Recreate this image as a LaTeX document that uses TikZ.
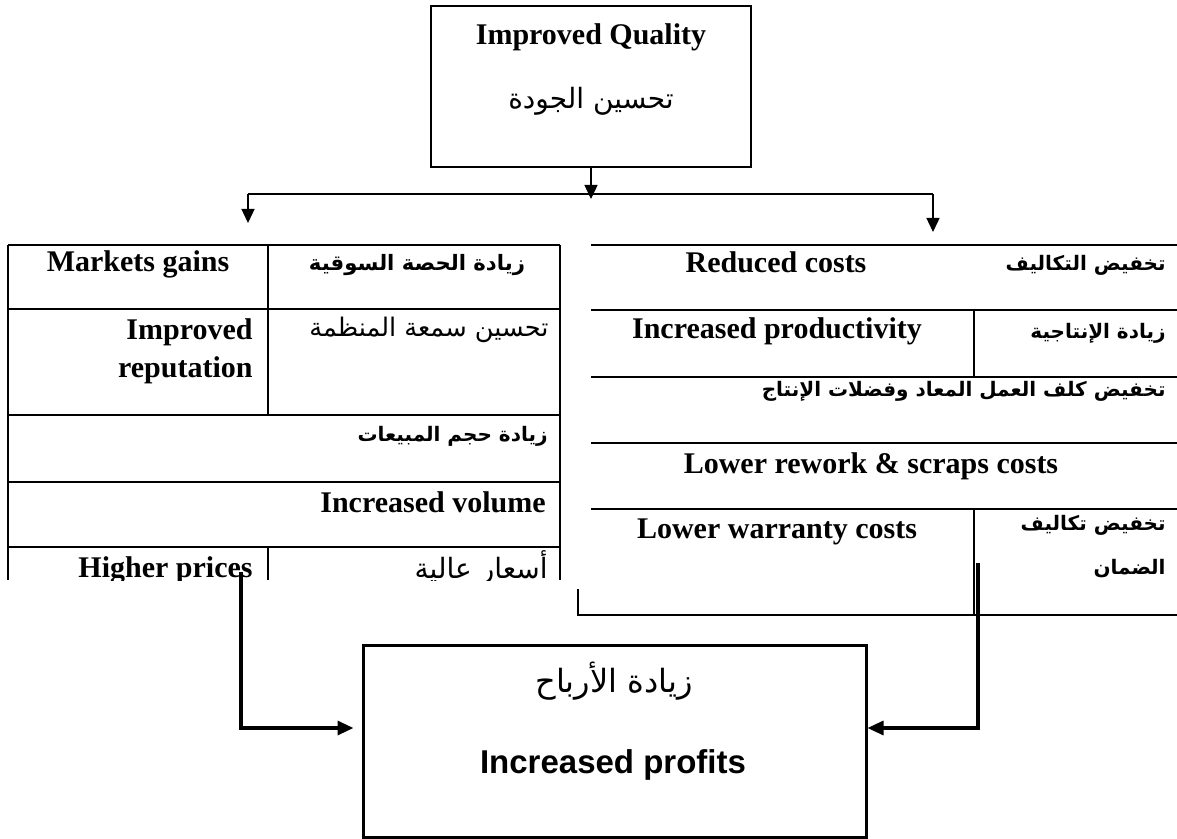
\documentclass[tikz,border=0pt]{standalone}
\usepackage{fontspec}
\setmainfont{Liberation Serif}
\newfontfamily\arabicfont[Script=Arabic]{DejaVu Sans}
\newfontfamily\arialfont{Liberation Sans}
\TeXXeTstate=1
\usetikzlibrary{arrows.meta}
\newcommand{\artxt}[1]{{\arabicfont\beginR #1\endR}}

\begin{document}
\begin{tikzpicture}[x=0.5pt, y=-0.5pt,
    >={Triangle[length=7pt,width=6.5pt]},
    qbox/.style={draw, line width=0.85pt, minimum width=160pt,
                 minimum height=80.5pt, inner sep=0pt},
    pbox/.style={draw, line width=1.5pt, minimum width=251.5pt,
                 minimum height=96pt, inner sep=0pt},
    en/.style={font=\fontsize{15}{19}\selectfont\bfseries, inner sep=0pt},
    ar/.style={font=\fontsize{13.5}{16}\selectfont, inner sep=0pt},
    arb/.style={font=\fontsize{10}{22}\selectfont\bfseries, inner sep=0pt},
    grid/.style={line width=1pt},
    bus/.style={line width=0.7pt},
    feed/.style={line width=1.6pt, -{Triangle[length=8pt,width=7pt]}}
  ]
  \useasboundingbox (0,0) rectangle (1177,839);

  % top box
  \node[qbox] (qual) at (591,86.5) {};
  \node[en, anchor=base] (qualen) at (591,45) {Improved Quality};
  \node[ar, font=\fontsize{14}{16}\selectfont, anchor=base] (qualar) at (591,109) {\artxt{تحسين الجودة}};

  % split
  \coordinate (bl) at (248,194);
  \coordinate (br) at (933,194);
  \coordinate (qtip) at (591,199);
  \coordinate (ltip) at (248,223);
  \coordinate (rtip) at (933,232);
  \draw[bus,->] (qual) -- (qtip);
  \draw[bus] (bl) -- (br);
  \draw[bus,->] (bl) -- (ltip);
  \draw[bus,->] (br) -- (rtip);

  % left table
  \draw[grid] (8,245) -- (560,245);
  \draw[grid] (8,309) -- (560,309);
  \draw[grid] (8,415) -- (560,415);
  \draw[grid] (8,482) -- (560,482);
  \draw[grid] (8,547) -- (560,547);
  \draw[grid] (8,245) -- (8,580);
  \draw[grid] (560,245) -- (560,580);
  \draw[grid] (268,245) -- (268,415);
  \draw[grid] (268,547) -- (268,580);

  \node[en, anchor=base] (mkt) at (138,272) {Markets gains};
  \node[arb, font=\fontsize{10.6}{22}\selectfont\bfseries, anchor=base] (mktar) at (417,271) {\artxt{زيادة الحصة السوقية}};
  \node[en, anchor=base east, align=right] (rep) at (253,378) {Improved\\reputation};
  \node[ar, font=\fontsize{12.8}{15}\selectfont, anchor=base east] (repar) at (549,336) {\artxt{تحسين سمعة المنظمة}};
  \node[arb, anchor=base east] (volar) at (548,441) {\artxt{زيادة حجم المبيعات}};
  \node[en, anchor=base east] (vol) at (546,512) {Increased volume};
  \begin{scope}
    \clip (0,540) rectangle (600,580);
    \node[en, anchor=base east] (price) at (253,577) {Higher prices};
    \node[ar, font=\fontsize{14}{16}\selectfont, anchor=base east] (pricear) at (548,578) {\artxt{أسعار عالية}};
  \end{scope}

  % right table
  \draw[grid] (591,245) -- (1177,245);
  \draw[grid] (591,310) -- (1177,310);
  \draw[grid] (591,377) -- (1177,377);
  \draw[grid] (591,443) -- (1177,443);
  \draw[grid] (591,509) -- (1177,509);
  \draw[grid] (974,310) -- (974,377);
  \draw[grid] (974,509) -- (974,615);
  \draw[grid] (578,589) -- (578,615) -- (1177,615);

  \node[en, anchor=base] (cost) at (776,273) {Reduced costs};
  \node[arb, anchor=base east] (costar) at (1166,271) {\artxt{تخفيض التكاليف}};
  \node[en, anchor=base] (prod) at (777,339) {Increased productivity};
  \node[arb, anchor=base east] (prodar) at (1166,339) {\artxt{زيادة الإنتاجية}};
  \node[arb, anchor=base east] (rwkar) at (1166,396) {\artxt{تخفيض كلف العمل المعاد وفضلات الإنتاج}};
  \node[en, anchor=base] (rwk) at (871,473) {Lower rework \& scraps costs};
  \node[en, anchor=base] (war) at (777,538) {Lower warranty costs};
  \node[arb, anchor=base east, align=right] (warar) at (1166,574) {\artxt{تخفيض تكاليف}\\\artxt{الضمان}};

  % profits
  \node[pbox] (profit) at (614.5,741) {};
  \node[ar, font=\fontsize{16}{19}\selectfont, anchor=base] (profar) at (614,692) {\artxt{زيادة الأرباح}};
  \node[anchor=base, inner sep=0pt, font=\arialfont\bfseries\fontsize{16.5}{19}\selectfont] (profen) at (613,773) {Increased profits};

  \coordinate (lsrc) at (241,572);
  \coordinate (rsrc) at (978,563);
  \draw[feed, shorten >=4pt] (lsrc) |- ([yshift=6.5pt]profit.west);
  \draw[feed] (rsrc) |- ([yshift=6.5pt]profit.east);
\end{tikzpicture}
\end{document}
